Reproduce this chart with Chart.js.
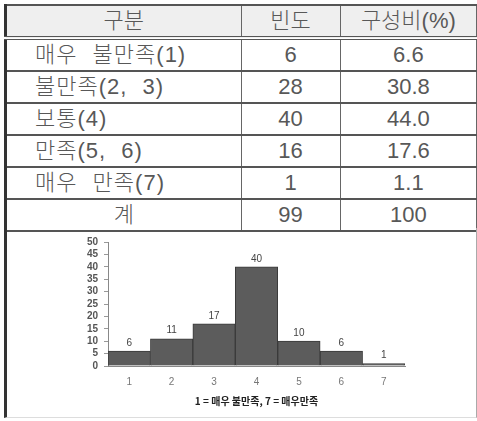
<!DOCTYPE html>
<html lang="ko">

<head>
    <meta charset="UTF-8">
    <title>만족도 분포</title>
    <style>
        body {
            margin: 0;
            width: 477px;
            height: 421px;
            overflow: hidden;
            position: relative;
            background: #fff;
            font-family: "Liberation Sans", "Noto Sans CJK KR", sans-serif;
        }

        #tbl {
            position: absolute;
            left: 4px;
            top: 4px;
            width: 473px;
            border-collapse: collapse;
            table-layout: fixed;
            border-left: 3px solid #333;
            border-top: 2px solid #555;
        }

        #tbl td {
            height: 30px;
            padding: 0;
            border-bottom: 2px solid #555;
            border-right: 1px solid #666;
            font-size: 22px;
            font-weight: 300;
            line-height: 28px;
            color: #585858;
            text-align: center;
            white-space: pre;
        }

        #tbl tr.head td {
            background: #efefef;
            border-bottom: 4px double #555;
        }

        #tbl td.name {
            text-align: left;
            padding-left: 28px;
            letter-spacing: 1px;
            word-spacing: 8px;
        }

        #tbl td.mid {
            text-align: center;
            padding-left: 0;
        }

        #panel {
            position: absolute;
            left: 4px;
            top: 228px;
            width: 469px;
            height: 189px;
            border-left: 3px solid #333;
            border-right: 1px solid #aaa;
            border-bottom: 1px solid #ddd;
        }

        #hist {
            position: absolute;
            left: 0;
            top: 228px;
        }
    </style>
</head>

<body>
    <table id="tbl">
        <colgroup>
            <col style="width:235px">
            <col style="width:99px">
            <col style="width:136px">
        </colgroup>
        <tbody id="rows"></tbody>
    </table>
    <div id="panel"></div>
    <canvas id="hist" width="477" height="193"></canvas>

    <script src="https://cdn.jsdelivr.net/npm/chart.js@4.4.0/dist/chart.umd.min.js"></script>
    <script>
        // table
        const headers = ['구분', '빈도', '구성비(%)'];
        const groups = ['매우 불만족(1)', '불만족(2, 3)', '보통(4)', '만족(5, 6)', '매우 만족(7)'];
        const freqs = ['6', '28', '40', '16', '1'];
        const ratios = ['6.6', '30.8', '44.0', '17.6', '1.1'];
        const totalRow = ['계', '99', '100'];

        // histogram
        const scores = ['1', '2', '3', '4', '5', '6', '7'];
        const counts = [6, 11, 17, 40, 10, 6, 1];
        const xTitle = '1 = 매우 불만족, 7 = 매우만족';

        var body = document.getElementById('rows');
        function addRow(cells, cls, firstCls) {
            var tr = document.createElement('tr');
            if (cls) tr.className = cls;
            cells.forEach((txt, i) => {
                var td = document.createElement('td');
                td.textContent = txt;
                if (i === 0 && firstCls) td.className = firstCls;
                tr.appendChild(td);
            });
            body.appendChild(tr);
        }
        addRow(headers, 'head');
        groups.forEach((g, i) => addRow([g, freqs[i], ratios[i]], '', 'name'));
        addRow(totalRow, '', 'mid');

        // value labels over the bars
        const valueLabels = {
            id: 'valueLabels',
            afterDatasetsDraw(chart) {
                const ctx = chart.ctx;
                const meta = chart.getDatasetMeta(0);
                ctx.save();
                ctx.font = '10px "Liberation Sans", sans-serif';
                ctx.fillStyle = '#444';
                ctx.textAlign = 'center';
                ctx.textBaseline = 'bottom';
                meta.data.forEach((bar, i) => {
                    ctx.fillText(counts[i], bar.x, bar.y - 3);
                });
                ctx.restore();
            }
        };

        var ctx = document.getElementById('hist');
        var chart = new Chart(ctx, {
            type: 'bar',
            data: {
                labels: scores,
                datasets: [{
                    data: counts,
                    backgroundColor: '#5c5c5c',
                    borderColor: '#3a3a3a',
                    borderWidth: 1,
                    barPercentage: 1,
                    categoryPercentage: 1
                }]
            },
            options: {
                responsive: false,
                animation: false,
                devicePixelRatio: 1,
                layout: { padding: { left: 78, right: 72, top: 14, bottom: 0 } },
                plugins: {
                    legend: { display: false },
                    tooltip: { enabled: false }
                },
                scales: {
                    x: {
                        grid: { display: false, drawTicks: false },
                        border: { display: true, color: '#888', dash: [1, 1] },
                        ticks: {
                            padding: 10,
                            color: '#777',
                            font: { family: '"Liberation Sans", sans-serif', size: 10 }
                        },
                        title: {
                            display: true,
                            text: xTitle,
                            color: '#222',
                            padding: { top: 0, bottom: 14 },
                            font: { family: '"Noto Sans CJK KR", sans-serif', size: 10, weight: 'bold' }
                        },
                        afterFit(s) { s.height = 55; }
                    },
                    y: {
                        min: 0,
                        max: 50,
                        ticks: {
                            stepSize: 5,
                            autoSkip: false,
                            padding: 6,
                            color: '#555',
                            font: { family: '"Liberation Sans", sans-serif', size: 10, weight: 'bold' }
                        },
                        grid: { display: true, drawOnChartArea: false, drawTicks: true, tickLength: 4, color: '#999' },
                        border: { display: true, color: '#888', dash: [1, 1] },
                        afterFit(s) { s.width = 30; }
                    }
                }
            },
            plugins: [valueLabels]
        });
    </script>

</body>

</html>
